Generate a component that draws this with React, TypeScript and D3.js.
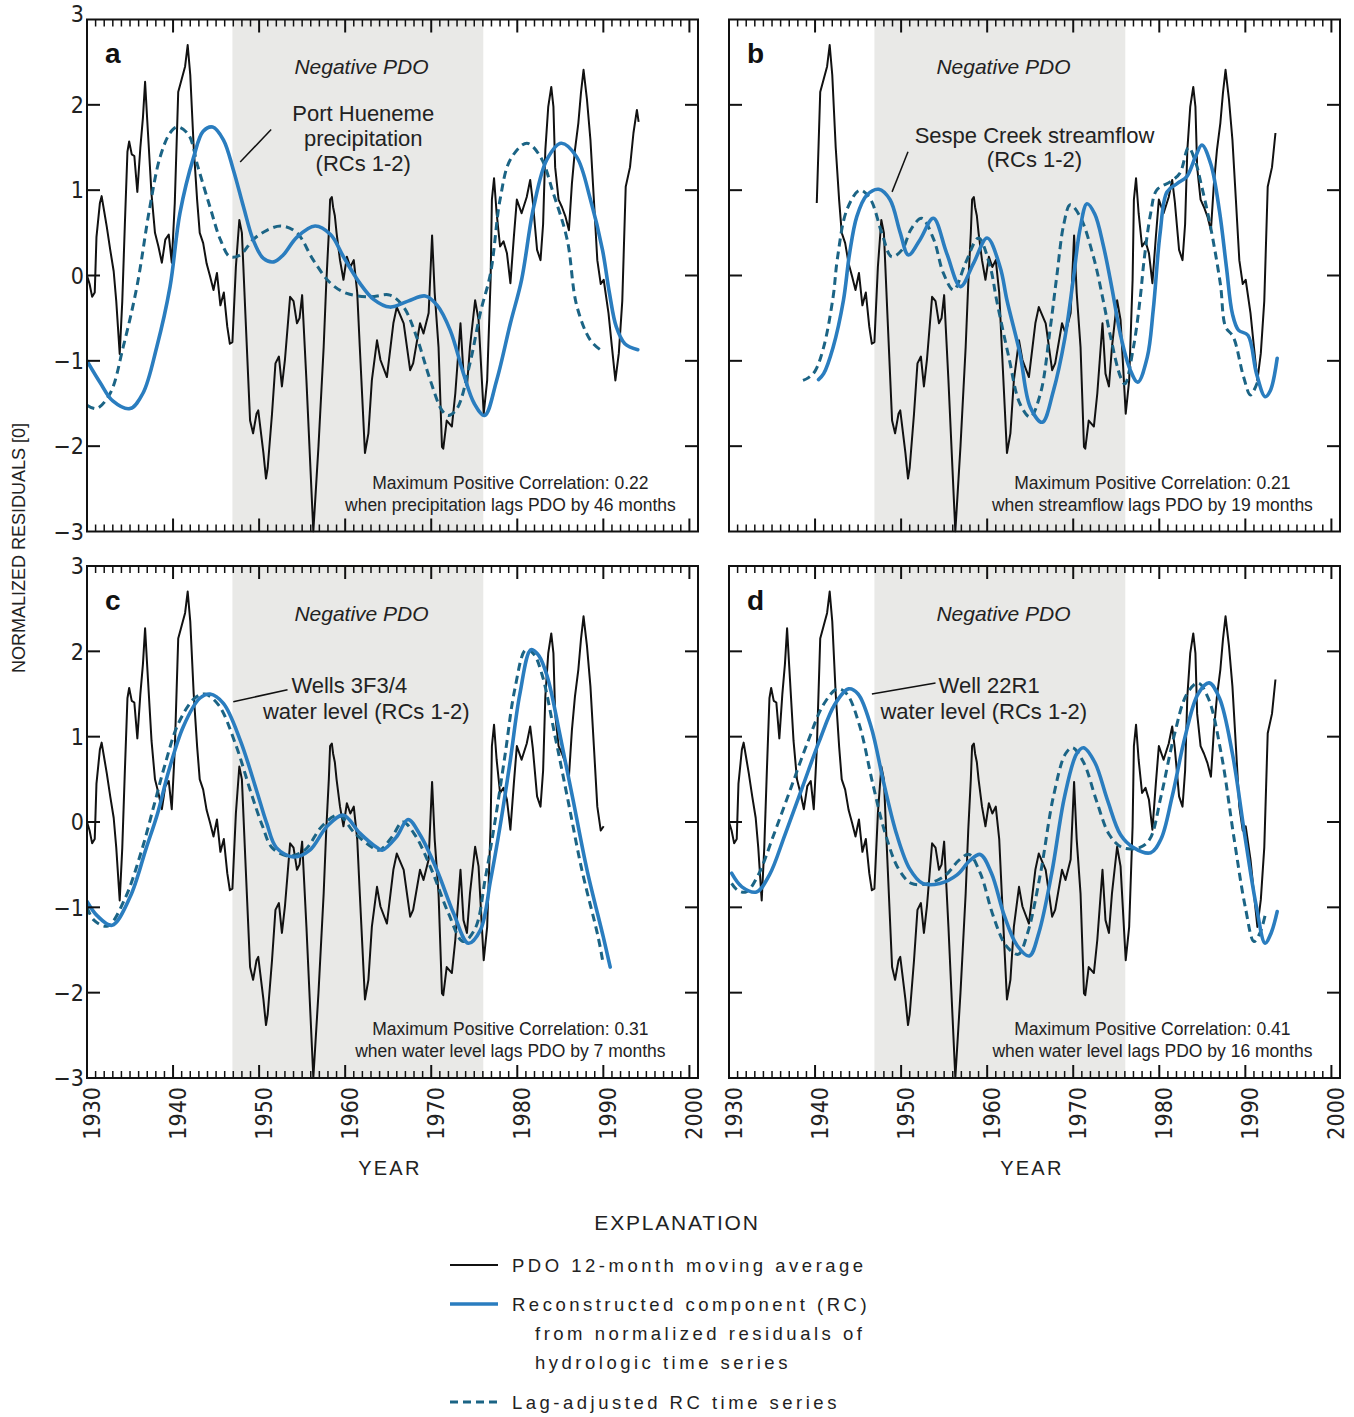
import React from "react";
import * as d3 from "d3";

type Pt = [number, number];

// PDO 12-month moving average (year, value)
const pdoSeries: Pt[] = [
  [1930.0, 0.0], [1930.3, -0.1], [1930.6, -0.25], [1930.9, -0.2], [1931.1, 0.45], [1931.5, 0.85],
  [1931.7, 0.93], [1932.0, 0.75], [1932.3, 0.57], [1932.7, 0.3], [1933.1, 0.05], [1933.4, -0.3],
  [1933.8, -0.92], [1934.1, -0.3], [1934.4, 0.6], [1934.7, 1.45], [1934.9, 1.57], [1935.2, 1.42],
  [1935.5, 1.4], [1935.85, 0.98], [1936.2, 1.5], [1936.5, 1.85], [1936.75, 2.27], [1937.0, 1.82],
  [1937.5, 0.95], [1937.9, 0.5], [1938.3, 0.34], [1938.7, 0.15], [1939.1, 0.42], [1939.5, 0.48],
  [1939.85, 0.15], [1940.2, 0.85], [1940.6, 2.15], [1941.0, 2.3], [1941.4, 2.45], [1941.7, 2.7],
  [1942.0, 2.35], [1942.4, 1.5], [1942.8, 0.88], [1943.1, 0.5], [1943.5, 0.38], [1943.9, 0.14],
  [1944.3, -0.01], [1944.7, -0.17], [1945.1, 0.03], [1945.5, -0.35], [1945.9, -0.2], [1946.3, -0.6],
  [1946.6, -0.8], [1946.9, -0.78], [1947.3, 0.1], [1947.7, 0.65], [1948.0, 0.5], [1948.4, -0.44],
  [1948.95, -1.7], [1949.3, -1.85], [1949.7, -1.62], [1949.9, -1.58], [1950.5, -2.08], [1950.8, -2.38],
  [1951.0, -2.25], [1951.5, -1.62], [1951.9, -1.03], [1952.3, -0.95], [1952.65, -1.3], [1953.0, -0.99],
  [1953.6, -0.25], [1954.0, -0.3], [1954.4, -0.56], [1954.7, -0.5], [1955.0, -0.23], [1955.5, -1.23],
  [1956.3, -3.0], [1956.9, -2.0], [1957.5, -0.84], [1957.8, -0.1], [1958.1, 0.5], [1958.25, 0.89],
  [1958.45, 0.92], [1958.6, 0.8], [1958.8, 0.7], [1959.0, 0.5], [1959.4, 0.18], [1959.8, -0.05],
  [1960.2, 0.22], [1960.6, 0.1], [1961.0, 0.18], [1961.4, -0.2], [1961.7, -0.84], [1962.3, -2.08],
  [1962.7, -1.85], [1963.1, -1.23], [1963.7, -0.76], [1964.1, -0.99], [1964.85, -1.19], [1965.6, -0.56],
  [1966.0, -0.37], [1966.8, -0.56], [1967.55, -1.11], [1967.9, -1.03], [1968.7, -0.56], [1969.1, -0.68],
  [1969.7, -0.44], [1970.1, 0.47], [1970.4, -0.2], [1970.85, -0.84], [1971.25, -2.01], [1971.4, -2.03],
  [1971.8, -1.7], [1972.4, -1.77], [1972.8, -1.38], [1973.4, -0.56], [1973.75, -1.15], [1974.15, -1.3],
  [1974.5, -0.84], [1975.1, -0.29], [1975.5, -0.52], [1976.1, -1.62], [1976.5, -1.23], [1976.9, -0.05],
  [1977.05, 0.89], [1977.3, 1.14], [1977.6, 0.73], [1978.0, 0.34], [1978.4, 0.4], [1978.8, 0.26],
  [1979.2, -0.09], [1979.6, 0.45], [1979.95, 0.89], [1980.5, 0.73], [1981.1, 0.92], [1981.5, 1.12],
  [1981.8, 0.87], [1982.3, 0.3], [1982.7, 0.18], [1983.0, 0.6], [1983.26, 1.47], [1983.6, 1.98],
  [1983.95, 2.21], [1984.2, 1.98], [1984.4, 1.27], [1984.8, 0.89], [1985.2, 0.8], [1985.6, 0.69],
  [1986.0, 0.53], [1986.35, 1.08], [1986.7, 1.47], [1987.1, 1.79], [1987.4, 2.14], [1987.7, 2.41],
  [1988.1, 2.06], [1988.5, 1.59], [1988.9, 0.89], [1989.3, 0.18], [1989.7, -0.1], [1990.04, -0.05],
  [1990.6, -0.44], [1991.0, -0.84], [1991.4, -1.23], [1991.8, -0.91], [1992.2, -0.3], [1992.6, 1.04],
  [1993.1, 1.27], [1993.5, 1.67], [1993.9, 1.94], [1994.1, 1.8],
];

// Panel a: Port Hueneme precipitation
const rcPortHueneme: Pt[] = [
  [1930.0, -1.0], [1931.5, -1.25], [1933.0, -1.47], [1935.0, -1.56], [1936.5, -1.38], [1938.1, -0.84],
  [1939.65, -0.13], [1940.8, 0.73], [1942.4, 1.39], [1943.5, 1.69], [1944.6, 1.74], [1945.85, 1.59],
  [1947.0, 1.24], [1948.2, 0.8], [1949.3, 0.42], [1950.5, 0.2], [1951.7, 0.16], [1952.8, 0.24],
  [1954.4, 0.45], [1956.5, 0.58], [1958.3, 0.48], [1959.8, 0.22], [1961.7, -0.09], [1963.3, -0.28],
  [1965.2, -0.37], [1967.3, -0.3], [1969.3, -0.24], [1970.7, -0.35], [1972.2, -0.64], [1973.75, -1.15],
  [1975.0, -1.5], [1976.2, -1.64], [1977.6, -1.23], [1979.2, -0.56], [1980.5, -0.05], [1981.9, 0.8],
  [1983.45, 1.36], [1985.1, 1.55], [1986.9, 1.39], [1988.5, 0.89], [1989.9, 0.3], [1990.7, -0.2],
  [1991.5, -0.6], [1992.5, -0.8], [1994.0, -0.87],
];
const lagPortHueneme: Pt[] = [
  [1930.0, -1.52], [1931.1, -1.56], [1932.7, -1.38], [1934.2, -0.84], [1935.8, -0.13], [1937.3, 0.8],
  [1938.5, 1.39], [1939.65, 1.67], [1940.5, 1.74], [1941.8, 1.65], [1942.9, 1.27], [1944.3, 0.8],
  [1945.5, 0.42], [1946.6, 0.22], [1947.8, 0.24], [1949.3, 0.42], [1950.9, 0.53], [1952.6, 0.58],
  [1954.4, 0.5], [1956.3, 0.18], [1958.3, -0.09], [1960.2, -0.21], [1962.9, -0.25], [1965.2, -0.23],
  [1966.8, -0.37], [1968.3, -0.72], [1969.9, -1.23], [1971.25, -1.58], [1972.0, -1.64], [1973.0, -1.56],
  [1974.5, -1.03], [1975.7, -0.44], [1976.9, 0.03], [1978.0, 0.89], [1979.2, 1.36], [1981.1, 1.55],
  [1982.7, 1.39], [1984.2, 0.96], [1985.8, 0.42], [1986.9, -0.35], [1988.5, -0.76], [1989.65, -0.87],
];

// Panel b: Sespe Creek streamflow
const rcSespe: Pt[] = [
  [1940.4, -1.22], [1941.0, -1.15], [1942.1, -0.84], [1943.3, -0.29], [1944.0, 0.25], [1944.85, 0.69],
  [1946.0, 0.94], [1947.4, 1.01], [1948.7, 0.89], [1949.9, 0.5], [1950.85, 0.24], [1952.2, 0.42],
  [1953.75, 0.67], [1955.3, 0.26], [1956.9, -0.13], [1958.4, 0.14], [1960.0, 0.44], [1961.5, 0.1],
  [1962.3, -0.29], [1963.8, -0.91], [1965.0, -1.54], [1966.4, -1.72], [1967.7, -1.35], [1969.0, -0.75],
  [1970.0, -0.05], [1970.8, 0.55], [1971.6, 0.84], [1972.5, 0.72], [1973.5, 0.35], [1974.5, -0.15],
  [1975.5, -0.7], [1976.6, -1.1], [1977.5, -1.25], [1978.6, -0.96], [1979.3, -0.4], [1980.1, 0.5],
  [1980.9, 0.98], [1982.1, 1.08], [1983.2, 1.16], [1984.2, 1.39], [1984.95, 1.53], [1986.0, 1.3],
  [1987.0, 0.75], [1987.8, 0.1], [1988.5, -0.45], [1989.2, -0.64], [1990.3, -0.7], [1991.3, -1.15],
  [1992.3, -1.42], [1992.9, -1.35], [1993.7, -0.97],
];
const lagSespe: Pt[] = [
  [1938.6, -1.23], [1939.2, -1.2], [1940.0, -1.12], [1941.0, -0.84], [1942.1, -0.25], [1942.6, 0.2],
  [1943.7, 0.77], [1945.2, 1.0], [1946.4, 0.9], [1947.75, 0.5], [1948.9, 0.22], [1950.1, 0.3],
  [1951.2, 0.55], [1952.4, 0.67], [1953.8, 0.42], [1954.9, 0.03], [1956.1, -0.17], [1957.5, 0.15],
  [1959.0, 0.44], [1960.35, 0.1], [1961.1, -0.29], [1962.5, -0.95], [1963.8, -1.5], [1965.0, -1.66],
  [1966.2, -1.38], [1967.3, -0.64], [1968.1, 0.0], [1968.9, 0.6], [1969.65, 0.83], [1970.8, 0.69],
  [1972.4, 0.2], [1973.5, -0.3], [1974.3, -0.7], [1975.5, -1.19], [1976.0, -1.27], [1977.0, -0.84],
  [1977.8, -0.25], [1978.2, 0.15], [1979.0, 0.73], [1979.7, 1.0], [1981.3, 1.1], [1982.4, 1.2],
  [1983.4, 1.5], [1984.3, 1.3], [1984.8, 1.1], [1985.9, 0.6], [1987.1, -0.1], [1987.7, -0.6],
  [1988.6, -0.72], [1989.8, -1.19], [1990.6, -1.4], [1991.6, -1.2],
];

// Panel c: Wells 3F3/4 water level
const rcWells3F3: Pt[] = [
  [1930.0, -0.93], [1931.2, -1.1], [1932.9, -1.21], [1935.0, -0.88], [1936.9, -0.3], [1938.2, 0.1],
  [1939.5, 0.6], [1941.2, 1.12], [1943.1, 1.45], [1944.3, 1.5], [1945.85, 1.39], [1947.8, 0.96],
  [1949.7, 0.37], [1950.9, -0.02], [1952.0, -0.3], [1954.0, -0.41], [1955.9, -0.33], [1957.9, -0.05],
  [1959.8, 0.08], [1961.7, -0.13], [1963.7, -0.3], [1964.3, -0.33], [1966.0, -0.17], [1967.3, 0.03],
  [1968.7, -0.15], [1970.65, -0.56], [1972.6, -1.07], [1974.3, -1.42], [1975.7, -1.27], [1976.9, -0.68],
  [1978.0, -0.05], [1979.2, 0.73], [1980.3, 1.5], [1981.6, 2.02], [1982.5, 1.95], [1983.5, 1.7],
  [1985.0, 1.0], [1986.5, 0.25], [1988.1, -0.56], [1990.0, -1.35], [1990.8, -1.7],
];
const lagWells3F3: Pt[] = [
  [1930.0, -1.0], [1930.8, -1.15], [1932.4, -1.22], [1934.4, -0.9], [1936.3, -0.35], [1937.8, 0.2],
  [1939.0, 0.65], [1940.6, 1.15], [1942.5, 1.45], [1943.7, 1.5], [1945.3, 1.37], [1947.2, 0.93],
  [1949.1, 0.33], [1950.4, -0.05], [1951.5, -0.3], [1953.4, -0.4], [1955.3, -0.33], [1957.3, -0.05],
  [1959.2, 0.08], [1961.1, -0.13], [1963.2, -0.3], [1964.0, -0.33], [1965.4, -0.18], [1966.7, 0.0],
  [1968.1, -0.15], [1970.0, -0.55], [1972.0, -1.07], [1973.7, -1.4], [1975.1, -1.25], [1976.3, -0.65],
  [1977.4, 0.0], [1978.6, 0.8], [1979.7, 1.55], [1981.0, 2.02], [1981.9, 1.97], [1982.9, 1.72],
  [1984.4, 1.0], [1985.9, 0.25], [1987.5, -0.56], [1989.4, -1.35], [1990.0, -1.67],
];

// Panel d: Well 22R1 water level
const rcWell22R1: Pt[] = [
  [1930.3, -0.6], [1931.5, -0.76], [1933.2, -0.82], [1934.7, -0.62], [1936.5, -0.15], [1938.5, 0.4],
  [1940.5, 0.95], [1942.3, 1.38], [1943.9, 1.56], [1945.0, 1.5], [1946.5, 1.12], [1948.0, 0.45],
  [1949.5, -0.15], [1951.0, -0.55], [1952.5, -0.72], [1954.5, -0.72], [1956.5, -0.62], [1958.0, -0.45],
  [1959.2, -0.38], [1960.5, -0.6], [1962.0, -1.1], [1963.5, -1.45], [1964.9, -1.57], [1966.0, -1.3],
  [1967.5, -0.6], [1969.0, 0.3], [1970.4, 0.8], [1971.2, 0.87], [1972.5, 0.7], [1974.0, 0.25],
  [1975.5, -0.15], [1977.0, -0.3], [1979.0, -0.36], [1980.2, -0.2], [1981.5, 0.3], [1983.0, 1.0],
  [1984.5, 1.5], [1985.8, 1.63], [1987.0, 1.45], [1988.5, 0.8], [1990.0, -0.2], [1991.3, -1.0],
  [1992.3, -1.42], [1993.0, -1.3], [1993.7, -1.05],
];
const lagWell22R1: Pt[] = [
  [1930.3, -0.72], [1931.0, -0.8], [1932.0, -0.82], [1933.4, -0.62], [1935.2, -0.15], [1937.2, 0.4],
  [1939.2, 0.95], [1941.0, 1.38], [1942.6, 1.56], [1943.7, 1.5], [1945.2, 1.12], [1946.7, 0.45],
  [1948.2, -0.15], [1949.7, -0.55], [1951.2, -0.72], [1953.2, -0.72], [1955.2, -0.62], [1956.7, -0.45],
  [1957.9, -0.38], [1959.2, -0.6], [1960.7, -1.1], [1962.2, -1.45], [1963.6, -1.55], [1964.7, -1.3],
  [1966.2, -0.6], [1967.7, 0.3], [1969.1, 0.8], [1969.9, 0.87], [1971.2, 0.7], [1972.7, 0.25],
  [1974.2, -0.15], [1975.7, -0.3], [1977.7, -0.3], [1978.9, -0.2], [1980.2, 0.3], [1981.7, 1.0],
  [1983.2, 1.5], [1984.5, 1.63], [1985.7, 1.45], [1987.2, 0.8], [1988.7, -0.2], [1990.0, -1.0],
  [1991.0, -1.4], [1991.7, -1.3], [1992.4, -1.05],
];

const yTickValues = [-3, -2, -1, 0, 1, 2, 3];
const yTickLabels = ["\u22123", "\u22122", "\u22121", "0", "1", "2", "3"];
const decadeYears = [1930, 1940, 1950, 1960, 1970, 1980, 1990, 2000];
const negativePdoSpan: [number, number] = [1946.9, 1976.05];
const xDomain: [number, number] = [1930, 2001];

const legendLabels = [
  ["PDO 12-month moving average"],
  ["Reconstructed component (RC)", "from normalized residuals of", "hydrologic time series"],
  ["Lag-adjusted RC time series"],
];

const PW = 611;
const PH = 512;
const BLUE = "#2a7dbf";
const DASH = "#1b6485";
const SHADE = "#e9e9e7";
const SANS = "'Liberation Sans', Arial, Helvetica, sans-serif";
const NARROW = "'Liberation Sans Narrow', 'Arial Narrow', 'DejaVu Sans Condensed', sans-serif";

type PanelCfg = {
  id: string;
  x0: number;
  y0: number;
  pdoRange: [number, number];
  rc: Pt[];
  lag: Pt[];
  label: string[];
  labelAnchor: "middle" | "start";
  labelX: number[];
  labelY: number[];
  leader: [Pt, Pt];
  corr: string[];
  showY: boolean;
  showX: boolean;
};

const panels: PanelCfg[] = [
  {
    id: "a", x0: 87, y0: 19.5, pdoRange: [1930, 1994.2], rc: rcPortHueneme, lag: lagPortHueneme,
    label: ["Port Hueneme", "precipitation", "(RCs 1-2)"], labelAnchor: "middle",
    labelX: [1962.1, 1962.1, 1962.1], labelY: [1.81, 1.52, 1.23],
    leader: [[1947.8, 1.33], [1951.4, 1.71]],
    corr: ["Maximum Positive Correlation: 0.22", "when precipitation lags PDO by 46 months"],
    showY: true, showX: false,
  },
  {
    id: "b", x0: 729, y0: 19.5, pdoRange: [1940.2, 1993.5], rc: rcSespe, lag: lagSespe,
    label: ["Sespe Creek streamflow", "(RCs 1-2)"], labelAnchor: "middle",
    labelX: [1965.5, 1965.5], labelY: [1.555, 1.27],
    leader: [[1948.95, 0.98], [1950.8, 1.45]],
    corr: ["Maximum Positive Correlation: 0.21", "when streamflow lags PDO by 19 months"],
    showY: false, showX: false,
  },
  {
    id: "c", x0: 87, y0: 566, pdoRange: [1930, 1990.5], rc: rcWells3F3, lag: lagWells3F3,
    label: ["Wells 3F3/4", "water level (RCs 1-2)"], labelAnchor: "start",
    labelX: [1953.75, 1950.45], labelY: [1.51, 1.21],
    leader: [[1947.0, 1.41], [1953.3, 1.55]],
    corr: ["Maximum Positive Correlation: 0.31", "when water level lags PDO by 7 months"],
    showY: true, showX: true,
  },
  {
    id: "d", x0: 729, y0: 566, pdoRange: [1930, 1993.7], rc: rcWell22R1, lag: lagWell22R1,
    label: ["Well 22R1", "water level (RCs 1-2)"], labelAnchor: "start",
    labelX: [1954.35, 1947.6], labelY: [1.51, 1.21],
    leader: [[1946.6, 1.5], [1954.0, 1.63]],
    corr: ["Maximum Positive Correlation: 0.41", "when water level lags PDO by 16 months"],
    showY: false, showX: true,
  },
];

function Panel({ p }: { p: PanelCfg }) {
  const x = d3.scaleLinear().domain(xDomain).range([p.x0, p.x0 + PW]);
  const y = d3.scaleLinear().domain([-3, 3]).range([p.y0 + PH, p.y0]);
  const pdoLine = d3.line<Pt>().x((d) => x(d[0])).y((d) => y(d[1])).curve(d3.curveLinear);
  const smooth = d3.line<Pt>().x((d) => x(d[0])).y((d) => y(d[1])).curve(d3.curveCatmullRom.alpha(0.5));
  const pdoPts = pdoSeries.filter((d) => d[0] >= p.pdoRange[0] - 1e-6 && d[0] <= p.pdoRange[1] + 1e-6);
  const left = p.x0, right = p.x0 + PW, top = p.y0, bottom = p.y0 + PH;
  const years = d3.range(xDomain[0], 2001);
  const clipId = `clip-${p.id}`;
  return (
    <g>
      <defs>
        <clipPath id={clipId}>
          <rect x={left} y={top - 1} width={PW} height={PH + 2} />
        </clipPath>
      </defs>
      <rect x={left} y={top} width={PW} height={PH} fill="#fff" />
      <rect x={x(negativePdoSpan[0])} y={top} width={x(negativePdoSpan[1]) - x(negativePdoSpan[0])} height={PH} fill={SHADE} />
      <text x={x(1961.9)} y={y(2.36)} textAnchor="middle" fontFamily={SANS} fontStyle="italic" fontSize={21} fill="#222">
        Negative PDO
      </text>
      <text x={x(1932.1)} y={y(2.49)} fontFamily={SANS} fontWeight="bold" fontSize={28} fill="#111">
        {p.id}
      </text>
      <g clipPath={`url(#${clipId})`}>
        <path d={pdoLine(pdoPts) || ""} fill="none" stroke="#111" strokeWidth={2} strokeLinejoin="round" />
        <path d={smooth(p.lag) || ""} fill="none" stroke={DASH} strokeWidth={3} strokeDasharray="8,5" />
        <path d={smooth(p.rc) || ""} fill="none" stroke={BLUE} strokeWidth={3.6} strokeLinecap="round" />
      </g>
      {p.label.map((t, i) => (
        <text key={i} x={x(p.labelX[i])} y={y(p.labelY[i])} textAnchor={p.labelAnchor} fontFamily={SANS} fontSize={22} fill="#222">
          {t}
        </text>
      ))}
      <line x1={x(p.leader[0][0])} y1={y(p.leader[0][1])} x2={x(p.leader[1][0])} y2={y(p.leader[1][1])} stroke="#111" strokeWidth={1.5} />
      {p.corr.map((t, i) => (
        <text key={i} x={x(1979.2)} y={y(i === 0 ? -2.5 : -2.755)} textAnchor="middle" fontFamily={SANS} fontSize={17.5} fill="#222">
          {t}
        </text>
      ))}
      {years.map((yr) => {
        const major = yr % 10 === 0;
        const len = major ? 13 : 7;
        const xx = x(yr);
        return (
          <g key={yr}>
            <line x1={xx} x2={xx} y1={top} y2={top + len} stroke="#111" strokeWidth={major ? 2 : 1.5} />
            <line x1={xx} x2={xx} y1={bottom} y2={bottom - len} stroke="#111" strokeWidth={major ? 2 : 1.5} />
          </g>
        );
      })}
      {yTickValues.slice(1, -1).map((v) => (
        <g key={v}>
          <line x1={left} x2={left + 13} y1={y(v)} y2={y(v)} stroke="#111" strokeWidth={2} />
          <line x1={right} x2={right - 13} y1={y(v)} y2={y(v)} stroke="#111" strokeWidth={2} />
        </g>
      ))}
      <rect x={left} y={top} width={PW} height={PH} fill="none" stroke="#111" strokeWidth={2} />
      {p.showY &&
        yTickValues.map((v, i) => (
          <text key={v} x={left - 3} y={y(v) + (p.id === "a" && v === 3 ? -6 : 0)} dy="0.36em" textAnchor="end" fontFamily={NARROW} fontSize={23} fill="#222">
            {yTickLabels[i]}
          </text>
        ))}
      {p.showX &&
        decadeYears.map((yr) => (
          <text key={yr} transform={`translate(${x(yr) + 13},${bottom + 9}) rotate(-90)`} textAnchor="end" fontFamily={NARROW} fontSize={23} fill="#222">
            {yr}
          </text>
        ))}
      {p.showX && (
        <text x={x(1965.2)} y={bottom + 97} textAnchor="middle" fontFamily={SANS} fontSize={20} letterSpacing={2.2} fill="#222">
          YEAR
        </text>
      )}
    </g>
  );
}

export default function App() {
  const legendX0 = 450, legendX1 = 498, legendTextX = 512, legendIndentX = 535;
  const rowBase = [1272, 1311, 1340, 1369, 1409];
  return (
    <svg width={1354} height={1417} viewBox="0 0 1354 1417" style={{ position: "absolute", left: 0, top: 0, display: "block", background: "#fff" }}>
      <rect x={0} y={0} width={1354} height={1417} fill="#fff" />
      {panels.map((p) => (
        <Panel key={p.id} p={p} />
      ))}
      <text transform="translate(25,548) rotate(-90)" textAnchor="middle" fontFamily={SANS} fontSize={18} fill="#222">
        NORMALIZED RESIDUALS [0]
      </text>
      <text x={677} y={1230} textAnchor="middle" fontFamily={SANS} fontSize={21} letterSpacing={1.8} fill="#222">
        EXPLANATION
      </text>
      <line x1={legendX0} x2={legendX1} y1={rowBase[0] - 7} y2={rowBase[0] - 7} stroke="#111" strokeWidth={2} />
      <line x1={legendX0} x2={legendX1} y1={rowBase[1] - 7} y2={rowBase[1] - 7} stroke={BLUE} strokeWidth={3.6} />
      <line x1={legendX0} x2={legendX1} y1={rowBase[4] - 7} y2={rowBase[4] - 7} stroke={DASH} strokeWidth={3} strokeDasharray="8,5" />
      <text x={legendTextX} y={rowBase[0]} fontFamily={SANS} fontSize={18.5} letterSpacing={3.5} fill="#222">{legendLabels[0][0]}</text>
      <text x={legendTextX} y={rowBase[1]} fontFamily={SANS} fontSize={18.5} letterSpacing={3.5} fill="#222">{legendLabels[1][0]}</text>
      <text x={legendIndentX} y={rowBase[2]} fontFamily={SANS} fontSize={18.5} letterSpacing={3.5} fill="#222">{legendLabels[1][1]}</text>
      <text x={legendIndentX} y={rowBase[3]} fontFamily={SANS} fontSize={18.5} letterSpacing={3.5} fill="#222">{legendLabels[1][2]}</text>
      <text x={legendTextX} y={rowBase[4]} fontFamily={SANS} fontSize={18.5} letterSpacing={3.5} fill="#222">{legendLabels[2][0]}</text>
    </svg>
  );
}
